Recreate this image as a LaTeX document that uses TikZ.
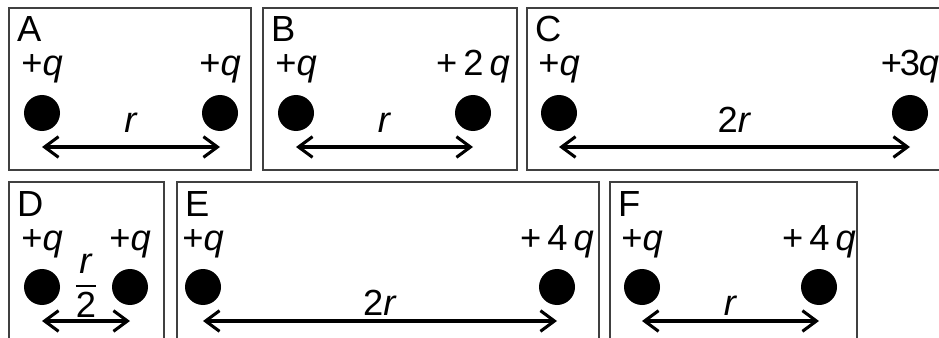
\documentclass[tikz,border=0pt]{standalone}
\usepackage{amsmath}
\usepackage{fontspec}
\setmainfont{Liberation Sans}
\usetikzlibrary{arrows.meta}
\tikzset{
  panel/.style={draw=black!75,line width=1.3pt},
  charge/.style={circle,fill=black,inner sep=0pt,minimum size=1.08cm},
  dist/.style={{Straight Barb[length=0.42cm,width=0.62cm]}-{Straight Barb[length=0.42cm,width=0.62cm]},line width=2.6pt},
}
\begin{document}
\begin{tikzpicture}[x=0.03cm,y=-0.03cm,every node/.style={font=\fontsize{31}{36}\selectfont,inner sep=0pt}]
\useasboundingbox (0,0) rectangle (939,338);
\clip (0,0) rectangle (939,338);
% panels: name/left/top/right/bottom/x of charge 1/x of charge 2/charge 2/separation/its y/its anchor
\foreach \nm/\bl/\bt/\br/\bb/\xa/\xb/\qb/\sep/\sy/\anc in {
  A/9/8/251/170/42/220/{+\textit{q}}/{\textit{r}}/132/base,
  B/263/8/517/170/296/473/{+\,2\,\textit{q}}/{\textit{r}}/132/base,
  C/527/8/960/170/559/910/{+\kern-2pt3\kern-1pt\textit{q}}/{2\textit{r}}/132/base,
  D/9/182/164/360/42/130/{+\textit{q}}/{$\genfrac{}{}{1.6pt}{0}{\mbox{\textit{r}}}{\mbox{2}}$}/286/center,
  E/177/182/599/360/203/557/{+\,4\,\textit{q}}/{2\textit{r}}/315/base,
  F/610/182/857/360/642/819/{+\,4\,\textit{q}}/{\textit{r}}/315/base} {
  \draw[panel] (\bl,\bt) rectangle (\br,\bb);
  \node[anchor=base west] (\nm-tag) at (\bl+8,\bt+34) {\nm};
  \node[charge] (\nm-1) at (\xa,\bt+105) {};
  \node[charge] (\nm-2) at (\xb,\bt+105) {};
  \node[anchor=base] (\nm-q1) at (\xa,\bt+68) {+\textit{q}};
  \node[anchor=base] (\nm-q2) at (\xb,\bt+68) {\qb};
  \coordinate (\nm-e1) at (\xa,\bt+139);
  \coordinate (\nm-e2) at (\xb,\bt+139);
  \draw[dist] (\nm-e1) -- (\nm-e2);
  \node[anchor=\anc] (\nm-sep) at ({(\xa+\xb)/2},\sy) {\sep};
}
\end{tikzpicture}
\end{document}
